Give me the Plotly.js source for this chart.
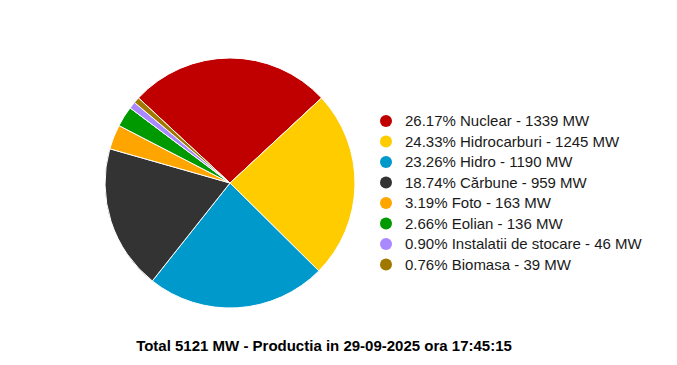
<!DOCTYPE html>
<html>
<head>
<meta charset="utf-8">
<script src="https://cdn.plot.ly/plotly-3.0.1.min.js"></script>
<style>html,body{margin:0;padding:0;background:#fff;}#chart{width:677px;height:365px;}</style>
</head>
<body>
<div id="chart"></div>
<script>
var categories = ["Nuclear", "Hidrocarburi", "Hidro", "Cărbune", "Foto", "Eolian", "Instalatii de stocare", "Biomasa"];
var values = [1339, 1245, 1190, 959, 163, 136, 46, 39];
var percents = ["26.17%", "24.33%", "23.26%", "18.74%", "3.19%", "2.66%", "0.90%", "0.76%"];
var colors = ["#C00000", "#FFCC00", "#0099CC", "#333333", "#FFA500", "#009900", "#AA88FF", "#A07800"];
var titleText = "Total 5121 MW - Productia in 29-09-2025 ora 17:45:15";

var labels = categories.map(function (c, i) { return percents[i] + " " + c + " - " + values[i] + " MW"; });
var idx = categories.map(function (c, i) { return i; });

var pie = {
  type: "pie",
  labels: categories,
  values: values,
  marker: { colors: colors, line: { color: "#ffffff", width: 1 } },
  sort: false,
  direction: "clockwise",
  rotation: -47.1,
  textinfo: "none",
  hoverinfo: "label+value+percent",
  showlegend: false,
  domain: { x: [105 / 677, 355 / 677], y: [1 - 308 / 365, 1 - 58 / 365] }
};

var legendMarkers = {
  type: "scatter",
  mode: "markers",
  x: idx.map(function () { return 386; }),
  y: idx,
  marker: { color: colors, size: 12, symbol: "circle" },
  hoverinfo: "skip",
  showlegend: false,
  xaxis: "x", yaxis: "y"
};

var legendText = {
  type: "scatter",
  mode: "text",
  x: idx.map(function () { return 405; }),
  y: idx,
  text: labels,
  textposition: "middle right",
  textfont: { family: "Liberation Sans, Arial, sans-serif", size: 15, color: "#1a1a1a" },
  hoverinfo: "skip",
  showlegend: false,
  xaxis: "x", yaxis: "y2"
};

var layout = {
  width: 677, height: 365,
  margin: { l: 0, r: 0, t: 0, b: 0 },
  paper_bgcolor: "#ffffff",
  plot_bgcolor: "rgba(0,0,0,0)",
  showlegend: false,
  xaxis: { domain: [0, 1], range: [0, 677], visible: false, fixedrange: true },
  yaxis: { domain: [0, 1], range: [11.903, -5.902], visible: false, fixedrange: true },
  yaxis2: { overlaying: "y", range: [11.830, -5.975], visible: false, fixedrange: true },
  title: {
    text: "<b>" + titleText + "</b>",
    font: { family: "Liberation Sans, Arial, sans-serif", size: 15, color: "#000000" },
    x: 324 / 677, xanchor: "center", xref: "paper",
    y: 1 - 346 / 365, yanchor: "middle", yref: "paper"
  }
};

Plotly.newPlot("chart", [pie, legendMarkers, legendText], layout, { displayModeBar: false, staticPlot: true });
</script>
</body>
</html>
